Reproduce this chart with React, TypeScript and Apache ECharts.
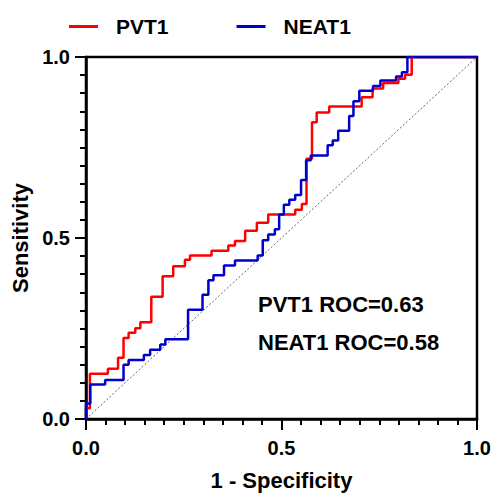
import React, { useEffect, useRef } from "react";
import * as echarts from "echarts";

const pvt1Fpr = [0, 0, 0.01, 0.056, 0.082, 0.096, 0.109, 0.126, 0.139, 0.167, 0.196, 0.223, 0.253, 0.266, 0.321, 0.364, 0.381, 0.407, 0.437, 0.466, 0.535, 0.552, 0.564, 0.578, 0.59, 0.622, 0.705, 0.733, 0.76, 0.799, 0.816, 0.833, 1.0];
const pvt1Tpr = [0, 0.03, 0.125, 0.139, 0.169, 0.224, 0.238, 0.251, 0.267, 0.338, 0.394, 0.422, 0.44, 0.452, 0.465, 0.479, 0.492, 0.52, 0.542, 0.565, 0.578, 0.594, 0.719, 0.82, 0.847, 0.863, 0.889, 0.913, 0.928, 0.94, 0.951, 1.0, 1.0];

const neat1Fpr = [0, 0, 0.011, 0.049, 0.096, 0.109, 0.148, 0.164, 0.19, 0.203, 0.261, 0.298, 0.313, 0.326, 0.353, 0.381, 0.439, 0.452, 0.466, 0.483, 0.494, 0.506, 0.52, 0.535, 0.55, 0.563, 0.575, 0.618, 0.631, 0.645, 0.673, 0.684, 0.699, 0.734, 0.753, 0.793, 0.808, 0.822, 1.0];
const neat1Tpr = [0, 0.043, 0.095, 0.108, 0.15, 0.163, 0.177, 0.191, 0.206, 0.22, 0.302, 0.343, 0.383, 0.397, 0.424, 0.438, 0.452, 0.494, 0.51, 0.524, 0.565, 0.592, 0.606, 0.619, 0.66, 0.715, 0.728, 0.756, 0.769, 0.796, 0.837, 0.878, 0.907, 0.92, 0.935, 0.946, 0.958, 1.0, 1.0];

const diagonal = [[0, 0], [1, 1]];
const seriesNames = ["PVT1", "NEAT1"];
const rocLabels = ["PVT1 ROC=0.63", "NEAT1 ROC=0.58"];
const axisTicks = [0, 0.5, 1];

const FONT = "'Liberation Sans', Arial, Helvetica, sans-serif";

function zip(xs: number[], ys: number[]) {
  return xs.map((x, i) => [x, ys[i]]);
}

export default function App() {
  const ref = useRef<HTMLDivElement>(null);
  useEffect(() => {
    if (!ref.current) return;
    const chart = echarts.init(ref.current, null, { renderer: "svg" });
    const axisCommon = {
      type: "value" as const,
      min: axisTicks[0],
      max: axisTicks[axisTicks.length - 1],
      interval: axisTicks[1] - axisTicks[0],
      splitLine: { show: false },
      axisLine: { show: true, lineStyle: { color: "#000", width: 2.5 } },
      axisTick: { show: true, inside: false, length: 11, lineStyle: { color: "#000", width: 2 } },
      minorTick: { show: true, splitNumber: 10, length: 6, lineStyle: { color: "#000", width: 2 } },
      minorSplitLine: { show: false },
      axisLabel: {
        color: "#000",
        fontFamily: FONT,
        fontWeight: "bold" as const,
        fontSize: 20,
        formatter: (v: number) => v.toFixed(1),
      },
      nameLocation: "middle" as const,
      nameTextStyle: { color: "#000", fontFamily: FONT, fontWeight: "bold" as const, fontSize: 22 },
    };
    chart.setOption({
      animation: false,
      backgroundColor: "#fff",
      grid: { left: 86, right: 17, top: 57, bottom: 72, show: true, borderColor: "#000", borderWidth: 2.5, containLabel: false },
      legend: {
        data: seriesNames,
        left: 64,
        top: 11,
        icon: "rect",
        itemWidth: 29,
        itemHeight: 3,
        itemGap: 68,
        textStyle: { color: "#000", fontFamily: FONT, fontWeight: "bold", fontSize: 21, padding: [0, 0, 0, 13] },
      },
      xAxis: { ...axisCommon, name: "1 - Specificity", nameGap: 50, axisLabel: { ...axisCommon.axisLabel, margin: 19 } },
      yAxis: { ...axisCommon, name: "Sensitivity", nameGap: 52, axisLabel: { ...axisCommon.axisLabel, margin: 16 } },
      series: [
        {
          name: "diag",
          type: "line",
          data: diagonal,
          symbol: "none",
          silent: true,
          lineStyle: { color: "#666", width: 1, type: [2, 2] },
        },
        {
          name: seriesNames[0],
          type: "line",
          step: "end",
          data: zip(pvt1Fpr, pvt1Tpr),
          symbol: "none",
          color: "#ff0000",
          lineStyle: { color: "#ff0000", width: 2.5 },
        },
        {
          name: seriesNames[1],
          type: "line",
          step: "end",
          data: zip(neat1Fpr, neat1Tpr),
          symbol: "none",
          color: "#0000cc",
          lineStyle: { color: "#0000cc", width: 2.5 },
        },
      ],
      graphic: rocLabels.map((t, i) => ({
        type: "text",
        left: 258,
        top: 293 + i * 38,
        style: { text: t, fill: "#000", font: `bold 22px ${FONT}` },
      })),
    });
    return () => chart.dispose();
  }, []);
  return <div ref={ref} style={{ position: "fixed", left: 0, top: 0, width: 494, height: 496 }} />;
}
